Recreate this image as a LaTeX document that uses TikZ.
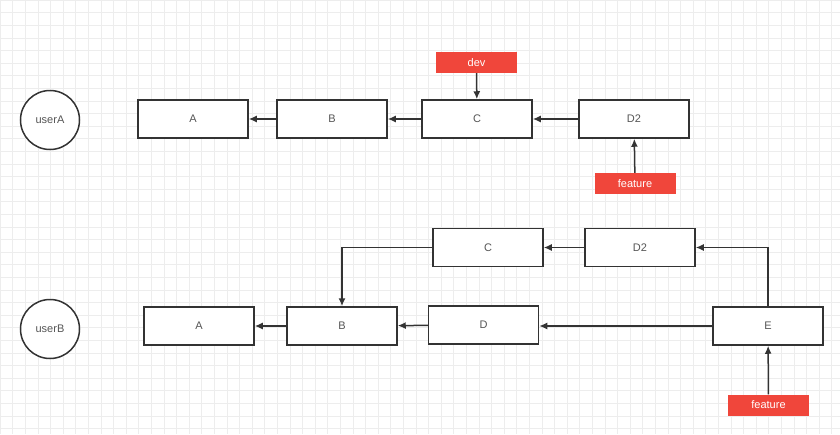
\documentclass[tikz,border=0pt]{standalone}
\usepackage{fontspec}
\setmainfont{Liberation Sans}
\usetikzlibrary{arrows.meta}
\definecolor{tagred}{HTML}{F0463B}
\definecolor{txt}{HTML}{555555}
\definecolor{ln}{HTML}{333333}
\begin{document}
\begin{tikzpicture}[x=1pt,y=-1pt,
  box/.style={draw=ln,line width=1.5pt,fill=white,minimum width=110pt,minimum height=38pt,inner sep=0pt,text=txt,font=\fontsize{11}{13}\selectfont},
  user/.style={draw=ln,line width=1.5pt,fill=white,circle,minimum size=59pt,inner sep=0pt,text=txt,font=\fontsize{11}{13}\selectfont},
  tag/.style={fill=tagred,minimum width=81pt,minimum height=21pt,inner sep=0pt,text=white,font=\fontsize{11}{13}\selectfont},
  conn/.style={draw=ln,line width=1.5pt,-{Latex[length=8pt,width=7pt]}},
  gridline/.style={black!7,line width=0.6pt}]
\useasboundingbox (0,0) rectangle (840,434);
\fill[white] (0,0) rectangle (840,434);
\foreach \i in {0,...,67} {\draw[gridline] (\i*12.6,0) -- (\i*12.6,434);}
\foreach \j in {0,...,34} {\draw[gridline] (0,\j*12.6) -- (840,\j*12.6);}
% top row
\node[user] (ua) at (50,120) {userA};
\node[box] (a1) at (193,119) {A};
\node[box] (b1) at (332,119) {B};
\node[box] (c1) at (477,119) {C};
\node[box] (d21) at (634,119) {D2};
\node[tag] (dev) at (476.5,62.5) {dev};
\node[tag] (f1) at (635,183.5) {feature};
\draw[conn] (b1) -- (a1);
\draw[conn] (c1) -- (b1);
\draw[conn] (d21) -- (c1);
\draw[conn] (dev) -- (c1);
\draw[conn] (f1) -- (d21);
% bottom row
\node[user] (ub) at (50,329) {userB};
\node[box] (a2) at (199,326) {A};
\node[box] (b2) at (342,326) {B};
\node[box] (d2) at (483.5,325) {D};
\node[box] (e2) at (768,326) {E};
\node[box] (c2) at (488,247.5) {C};
\node[box] (d22) at (640,247.5) {D2};
\node[tag] (f2) at (768.5,405) {feature};
\draw[conn] (b2) -- (a2);
\draw[conn] (d2) -- (b2);
\draw[conn] (e2.west |- 0,326) -- (d2.east |- 0,326);
\draw[conn] (d22) -- (c2);
\draw[conn] (c2.west) -| (b2.north);
\draw[conn] (e2.north) |- (d22.east);
\draw[conn] (f2) -- (e2);
\end{tikzpicture}
\end{document}
